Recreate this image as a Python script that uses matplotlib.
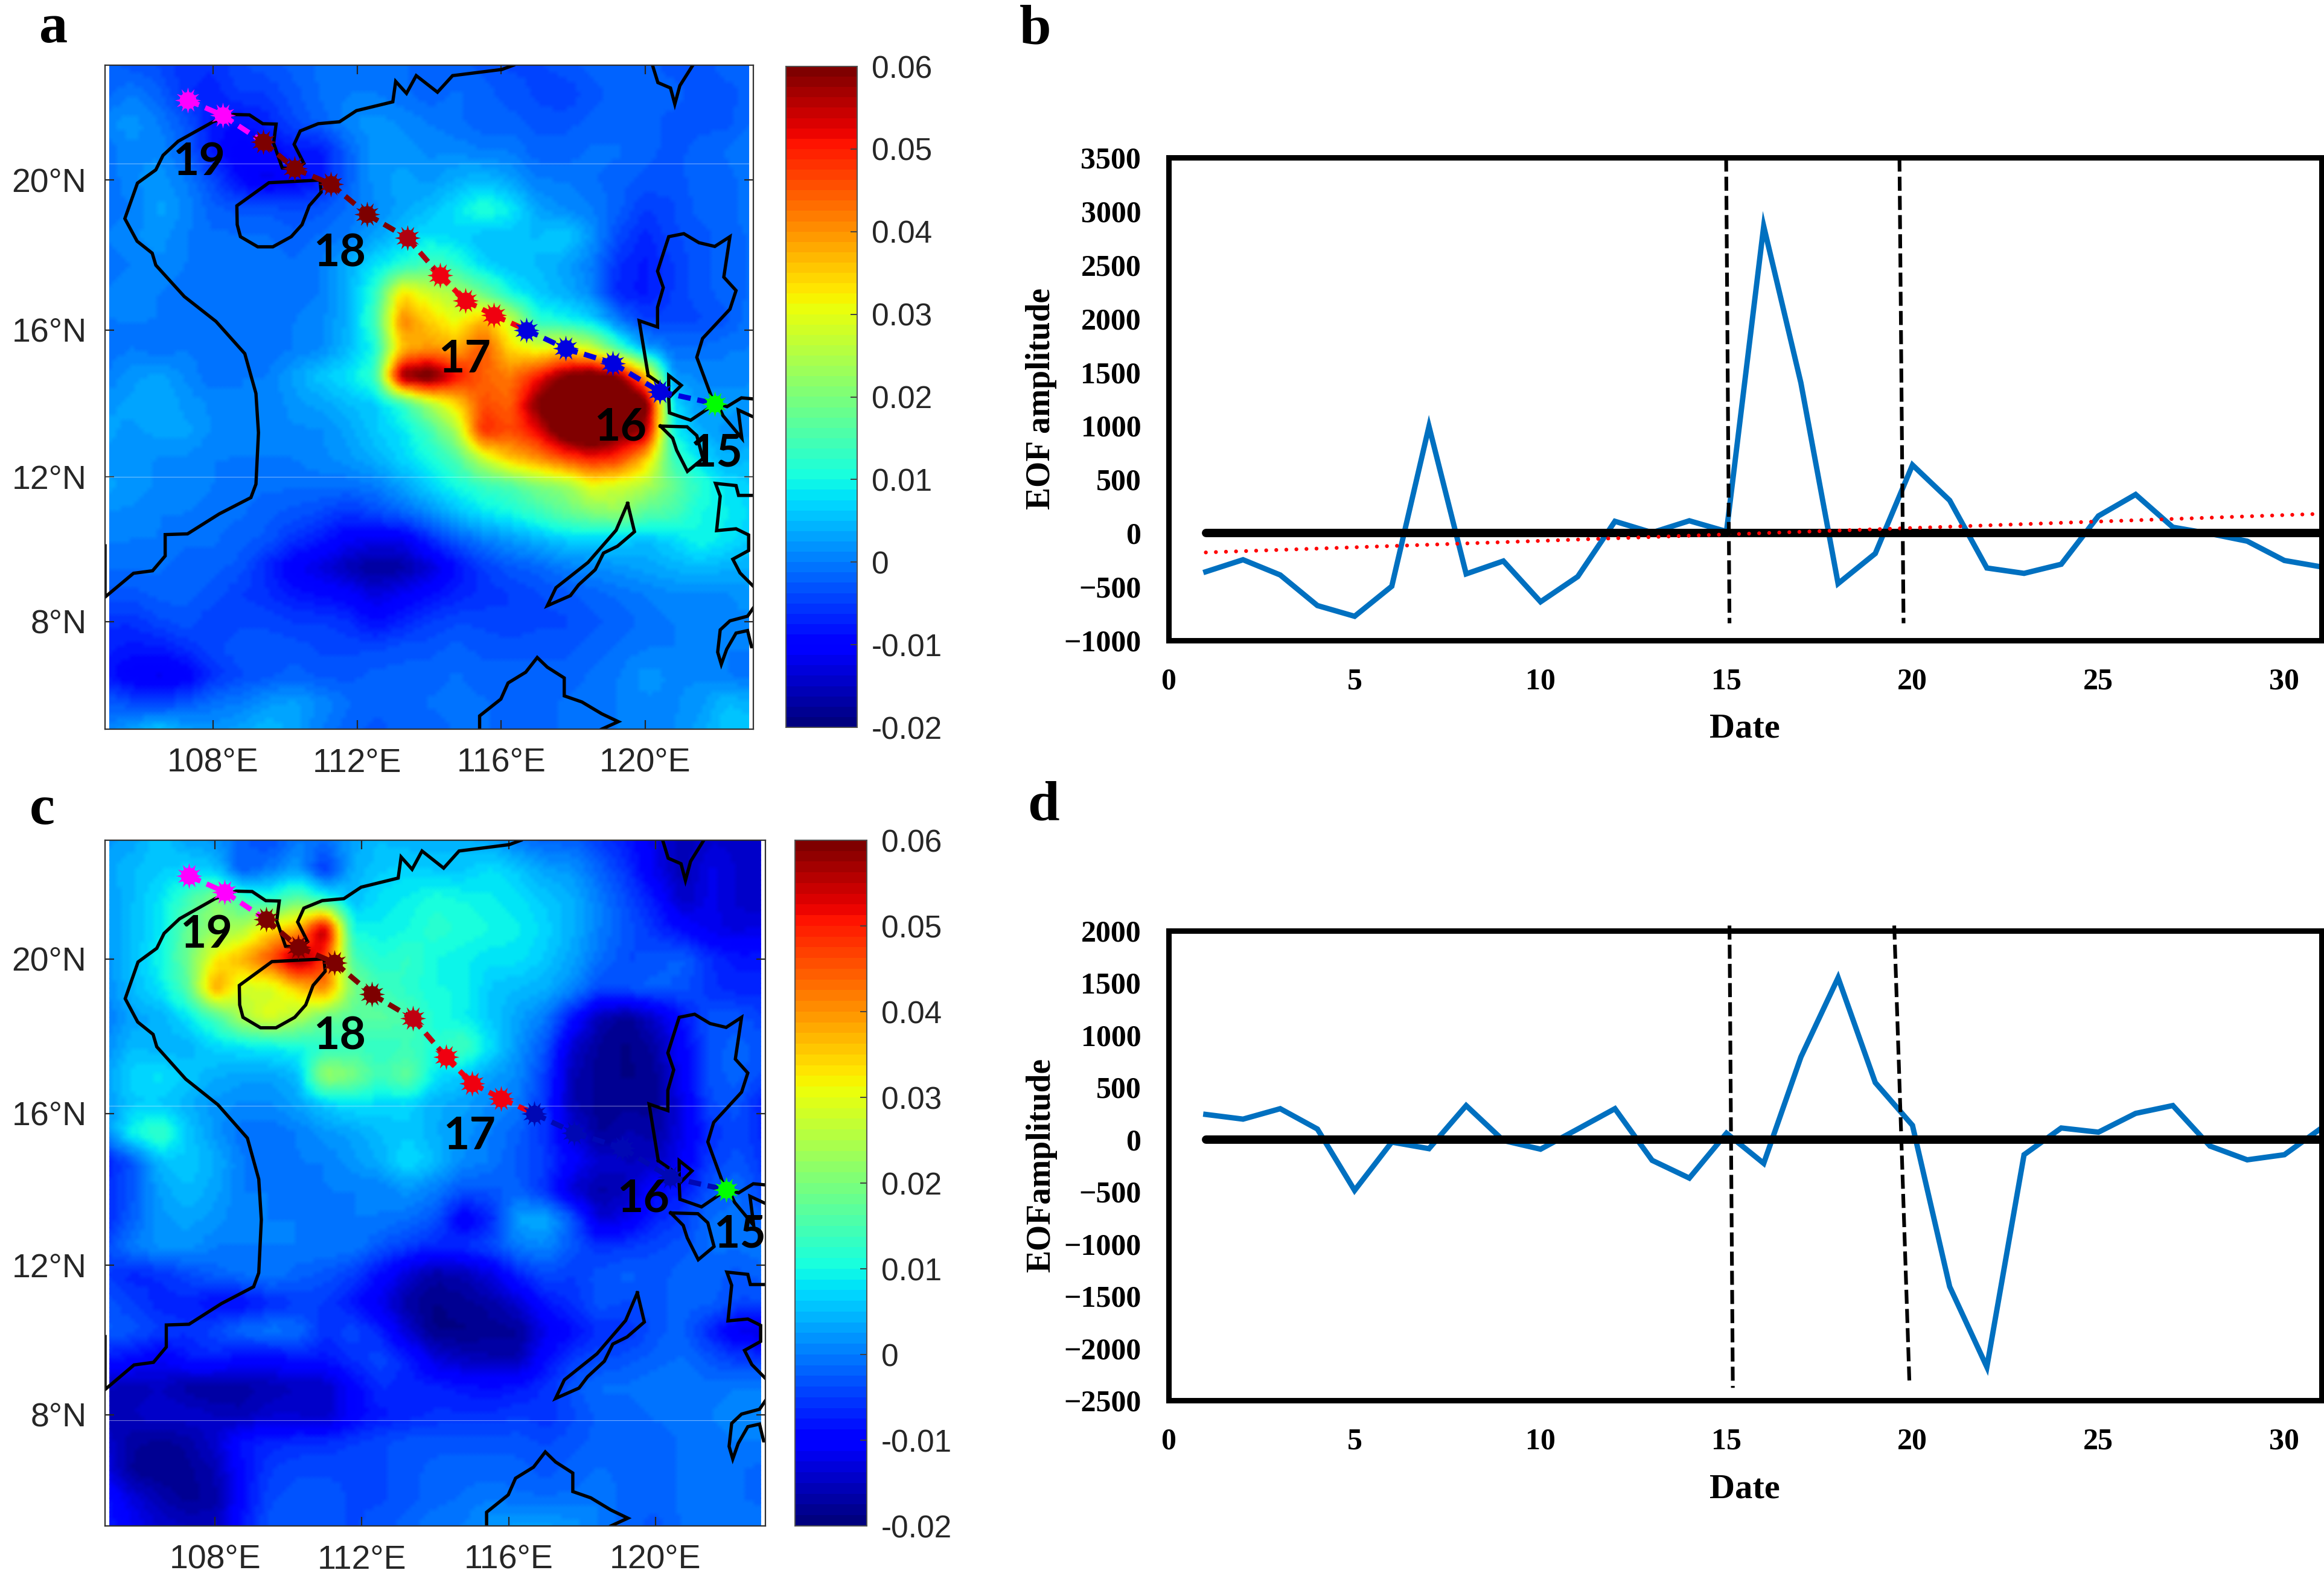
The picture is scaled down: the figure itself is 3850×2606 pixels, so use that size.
import numpy as np
import matplotlib
matplotlib.use('Agg')
import matplotlib.pyplot as plt

W, H = 3850, 2606

# EOF time series
days = list(range(1, 32))
amp_b = [-360, -248, -390, -675, -775, -495, 995, -380, -260, -640, -405, 110, 5, 115, 15, 2860,
         1400, -470, -190, 635, 305, -325, -375, -290, 160, 360, 55, -5, -75, -255, -315]
amp_d = [240, 195, 295, 100, -488, -25, -88, 325, -10, -93, 100, 295, -200, -370, 60, -229,
         790, 1550, 545, 135, -1410, -2180, -146, 110, 70, 250, 325, -63, -195, -146, 110]
trend_x = [1, 31]
trend_b = [-180, 180]
dash_b = [([14.99, 15.08], [3500, -840]), ([19.65, 19.76], [3500, -840])]
dash_d = [([15.08, 15.17], [2050, -2380]), ([19.51, 19.92], [2050, -2357])]

# typhoon track
track_lon = [107.29, 108.26, 109.39, 110.27, 111.26, 112.28, 113.39, 114.3, 115.0, 115.79,
             116.7, 117.79, 119.1, 120.4, 121.93]
track_lat = [22.1, 21.7, 21.0, 20.3, 19.9, 19.09, 18.47, 17.47, 16.79, 16.4,
             16.0, 15.5, 15.1, 14.33, 14.0]
track_col = ['#ff00ff', '#ff00ff', '#7d0000', '#7d0000', '#7d0000', '#7d0000', '#b00010', '#f00010',
             '#f00010', '#f00010', '#0000e0', '#0000e0', '#0000e0', '#0000e0', '#00ff00']
track_col_c = ['#ff00ff', '#ff00ff', '#7d0000', '#7d0000', '#7d0000', '#7d0000', '#c00010', '#f00010',
               '#f00010', '#f00010', '#0008b4', '#0008b4', '#0008b4', '#0008b4', '#00ff00']

# coastlines
coast_main = [(105.0, 10.1), (105.0, 8.68), (105.79, 9.34), (106.32, 9.41), (106.67, 9.82), (106.67, 10.41),
              (107.29, 10.43), (108.17, 10.98), (109.05, 11.43), (109.19, 11.80), (109.26, 13.21),
              (109.19, 14.28), (108.88, 15.36), (108.08, 16.23), (107.2, 16.9), (106.41, 17.74),
              (106.31, 18.06), (105.89, 18.38), (105.55, 18.98), (105.9, 19.92), (106.41, 20.27),
              (106.61, 20.65), (107.03, 21.02), (108.0, 21.53), (108.57, 21.72), (109.01, 21.71),
              (109.38, 21.48), (109.75, 21.47), (109.68, 20.97), (109.92, 20.32), (110.3, 20.29),
              (110.52, 20.44), (110.25, 20.94), (110.42, 21.29), (110.92, 21.48), (111.51, 21.53),
              (111.98, 21.82), (112.99, 22.05), (113.07, 22.58), (113.37, 22.27), (113.64, 22.73),
              (114.23, 22.3), (114.65, 22.73), (116.02, 22.89), (116.34, 23.0)]
coast_hainan = [(110.97, 20.0), (109.55, 19.93), (108.66, 19.32), (108.67, 18.82), (108.76, 18.5), (109.24, 18.23),
                (109.66, 18.23), (110.17, 18.5), (110.47, 18.82), (110.67, 19.32), (111.0, 19.68), (110.97, 20.0)]
coast_taiwan = [(120.2, 23.0), (120.35, 22.55), (120.7, 22.41), (120.82, 21.99), (120.96, 22.47), (121.32, 23.0)]
coast_luzon = [(120.08, 14.77), (119.83, 16.25), (120.34, 16.08), (120.34, 16.61), (120.5, 17.14), (120.34, 17.58),
               (120.65, 18.5), (121.07, 18.58), (121.49, 18.34), (121.93, 18.24), (122.35, 18.5), (122.18, 17.42),
               (122.52, 17.06), (122.35, 16.56), (121.59, 15.77), (121.43, 15.26), (121.83, 14.21), (122.0, 14.0),
               (122.27, 13.92), (122.67, 14.16), (123.0, 14.13)]
coast_luzon2 = [(120.08, 14.77), (120.42, 14.54), (120.65, 14.3), (120.65, 14.77), (121.0, 14.5), (120.65, 14.16),
                (120.67, 13.75), (121.26, 13.55), (121.76, 13.88), (122.0, 14.0), (122.16, 13.67), (122.68, 13.06),
                (122.58, 13.83), (123.0, 13.64)]
coast_mindoro = [(120.42, 13.39), (121.16, 13.37), (121.43, 13.13), (121.6, 12.5), (121.17, 12.15), (120.87, 12.73),
                 (120.76, 13.06), (120.42, 13.39)]
coast_palawan = [(119.51, 11.27), (119.7, 10.49), (119.23, 10.09), (118.84, 9.9), (118.61, 9.44), (118.15, 9.02),
                 (117.92, 8.72), (117.28, 8.44), (117.52, 8.94), (118.41, 9.64), (119.19, 10.53), (119.51, 11.27)]
coast_borneo = [(115.4, 5.0), (115.4, 5.37), (115.99, 5.84), (116.19, 6.29), (116.68, 6.59), (117.0, 7.0), (117.28, 6.73),
                (117.75, 6.43), (117.75, 5.93), (118.24, 5.76), (118.79, 5.43), (119.25, 5.21), (118.79, 5.0)]
coast_visayas = [(123.0, 11.49), (122.59, 11.49), (122.52, 11.76), (121.95, 11.82), (122.08, 11.47), (121.98, 10.52),
                 (122.52, 10.57), (122.87, 10.4), (122.87, 9.97), (122.43, 9.73), (122.63, 9.35), (123.0, 8.98)]
coast_mindanao = [(123.0, 8.38), (122.84, 8.15), (122.35, 8.02), (122.08, 7.77), (122.01, 7.15), (122.11, 6.81),
                  (122.26, 7.23), (122.52, 7.68), (122.84, 7.75), (122.95, 7.3), (123.0, 7.3)]
coasts = [coast_main, coast_hainan, coast_taiwan, coast_luzon, coast_luzon2, coast_mindoro, coast_palawan,
          coast_borneo, coast_visayas, coast_mindanao]

# EOF fields in units of 0.001, rows north to south
grid_lon = np.arange(25) * 0.75 + 105
grid_lat = 23 - np.arange(25) * 0.75
field_a = np.array([
    [-2, -3, -4, -6, -6, -4, -3, -2, -1, -1, 0, -1, -2, -2, -3, -4, -4, -3, -2, -2, -2, -3, -3, -2, -2],
    [-2, 0, -2, -6, -7, -5, -5, -3, -1, 0, 0, -1, -2, -1, -2, -3, -4, -5, -3, -2, -2, -2, -3, -3, -2],
    [1, 2, 0, -3, -8, -9, -7, -4, -2, 1, 2, 1, 0, -1, -2, -2, -3, -3, -2, -2, -2, -3, -3, -3, -1],
    [-1, 1, 1, -2, -8, -11, -10, -8, -8, -2, 2, 2, 1, 1, 0, 0, -2, -2, -1, -1, -2, -3, -2, -1, 0],
    [-1, 1, 2, 0, -4, -9, -12, -10, -8, -2, 2, 3, 2, 4, 5, 3, 0, 0, -1, -2, -3, -3, -2, -2, 0],
    [-1, 0, 3, 1, -2, -3, -3, -4, -3, -1, 1, 3, 5, 8, 12, 9, 3, 1, 0, -2, -5, -4, -2, -2, 0],
    [0, 1, 2, 0, -1, -1, -1, -2, -1, 0, 3, 6, 8, 7, 5, 5, 5, 7, 2, -4, -7, -4, -3, -2, -1],
    [-1, 0, 1, 0, -1, -1, -1, -1, 0, 4, 8, 11, 15, 12, 7, 5, 5, 3, 0, -6, -8, -5, -3, -2, -1],
    [0, 1, 0, -1, -1, -1, -1, -1, 0, 4, 12, 34, 28, 24, 18, 10, 6, 4, 1, -7, -8, -5, -3, -2, -1],
    [0, 0, 0, -1, -1, -1, -1, 0, 1, 4, 14, 42, 35, 30, 38, 28, 12, 10, 7, 0, -5, -4, -4, -3, 0],
    [-1, 0, -1, 0, -1, -1, -1, 0, 1, 5, 10, 36, 40, 38, 46, 34, 30, 33, 28, 14, 3, -1, -1, 0, 0],
    [0, 2, 3, 1, -1, 0, 0, 3, 6, 8, 13, 60, 64, 52, 44, 42, 50, 60, 64, 60, 38, 2, 1, 0, 1],
    [2, 3, 4, 2, 1, 0, 0, 2, 3, 5, 6, 12, 24, 34, 46, 44, 60, 70, 72, 72, 64, 8, 2, 3, 2],
    [3, 2, 3, 3, 1, 0, 0, 1, 1, 3, 6, 8, 14, 24, 50, 46, 52, 64, 70, 62, 58, 10, 4, 2, 2],
    [2, 2, 1, 1, 0, 0, 0, 0, 1, 2, 4, 7, 10, 15, 27, 36, 40, 46, 50, 48, 36, 14, 8, 4, 5],
    [3, 2, 1, 1, 0, -1, -1, -1, -1, -1, 0, 3, 7, 10, 13, 15, 20, 22, 30, 28, 25, 18, 12, 8, 6],
    [1, 1, 0, 0, -1, -1, -2, -3, -4, -6, -4, -2, 1, 5, 8, 10, 13, 17, 20, 22, 16, 15, 10, 9, 7],
    [0, 0, 0, -1, -1, -2, -3, -6, -8, -11, -12, -12, -7, -3, 0, 2, 4, 6, 6, 6, 5, 7, 10, 8, 6],
    [-1, -1, -1, -2, -2, -3, -7, -11, -13, -16, -18, -17, -14, -9, -5, -3, -2, 0, 1, 2, 3, 4, 5, 4, 4],
    [-3, -3, -2, -2, -3, -5, -6, -8, -9, -10, -13, -11, -9, -7, -6, -5, -4, -3, -2, -1, 0, 1, 1, 1, 2],
    [-6, -6, -4, -3, -5, -4, -4, -5, -5, -6, -9, -7, -5, -4, -4, -5, -4, -4, -3, -2, -1, 0, 0, 1, 1],
    [-7, -8, -8, -6, -4, -3, -3, -3, -4, -4, -4, -3, -3, -2, -3, -3, -3, -3, -2, -1, 0, 0, 0, 0, 0],
    [-8, -11, -12, -11, -6, -4, -3, -2, -3, -3, -2, -2, -2, -1, -2, -2, -2, -2, -1, 0, 2, 1, 1, 0, -1],
    [-2, -4, -5, -3, -1, 0, 2, 3, 1, -1, -2, -2, -1, -1, -1, -2, -2, -1, -1, 0, 1, 1, 2, 5, 4],
    [0, 3, 6, 3, 2, 3, 5, 3, 0, -2, -3, -2, -2, -1, -1, -2, -2, -1, 0, 0, 1, 1, 3, 6, 6],
])
field_c = np.array([
    [2, 3, 6, 3, 2, -2, -4, 0, -1, 3, 5, 4, 4, 4, 3, 0, -2, -2, -5, -8, -12, -16, -14, -14, -14],
    [3, 5, 6, 7, 6, -3, 0, 3, -6, 4, 6, 7, 6, 6, 8, 6, 3, 2, -2, -6, -12, -16, -12, -14, -14],
    [2, 5, 8, 14, 22, 14, 12, 18, 12, 5, 8, 9, 11, 10, 9, 8, 6, 4, 0, -4, -8, -15, -12, -14, -15],
    [2, 5, 8, 18, 22, 25, 34, 38, 58, 10, 9, 10, 12, 11, 10, 9, 7, 4, 0, -3, -6, -9, -12, -13, -12],
    [2, 5, 10, 18, 32, 38, 46, 60, 48, 15, 11, 13, 10, 9, 8, 8, 6, 3, -1, -4, -3, -2, -6, -8, -8],
    [1, 5, 8, 16, 40, 28, 28, 35, 42, 20, 14, 12, 10, 10, 6, 5, 4, 1, -4, -3, -2, -3, -6, -7, -7],
    [0, 3, 4, 8, 14, 25, 30, 25, 18, 16, 17, 15, 11, 9, 6, 3, 0, -8, -16, -18, -14, -8, -3, -3, -5],
    [1, 5, 4, 4, 7, 8, 9, 10, 12, 14, 12, 14, 11, 15, 8, 2, -3, -14, -18, -19, -17, -10, -3, -2, -3],
    [3, 7, 8, 6, 4, 3, 3, 5, 24, 20, 14, 18, 8, 6, 3, 1, -5, -16, -18, -19, -18, -10, -3, -2, -4],
    [2, 6, 6, 4, 2, 1, 1, 3, 6, 8, 7, 7, 4, 3, 1, 0, -6, -16, -18, -18, -18, -12, -4, -3, -8],
    [1, 10, 14, 6, 2, -1, -1, 0, 2, 3, 5, 6, 4, 2, 0, -2, -6, -13, -18, -16, -17, -12, -6, -4, -7],
    [-8, -3, 5, 6, 4, 0, -1, 0, 0, 2, 4, 8, 5, 1, 0, -3, -5, -10, -14, -15, -15, -11, -5, -3, -6],
    [-6, -3, 3, 5, 3, 0, 0, -1, 0, 0, 0, 2, 0, -3, -3, -2, -6, -14, -17, -15, -9, -8, -3, -1, -5],
    [-7, -2, 2, 3, 2, 0, 0, 0, -1, 0, 0, -1, -3, -11, -7, 3, 4, -3, -14, -12, -7, -5, -1, -1, -2],
    [-4, 0, 2, 2, 0, 0, 0, 0, 0, 0, -3, -5, -7, -6, -4, 0, 1, -3, -6, -5, -4, -3, -1, -1, 0],
    [-5, -7, -6, -4, -2, -1, 0, -2, -3, -5, -9, -14, -17, -16, -13, -7, -4, -5, -3, -2, -3, -2, -2, -3, -2],
    [-3, -5, -7, -7, -9, -9, -7, -5, -5, -8, -12, -17, -19, -18, -17, -14, -8, -6, -3, -4, -3, -2, -2, -4, -4],
    [-2, -3, -5, -6, -4, -1, 0, -1, -6, -4, -7, -14, -19, -19, -18, -18, -12, -9, -6, -6, -3, -2, -7, -12, -13],
    [-8, -9, -11, -8, -7, -10, -10, -8, -8, -6, -4, -7, -13, -15, -16, -16, -9, -5, -4, -3, -2, -1, -3, -5, -5],
    [-15, -16, -15, -17, -18, -17, -16, -15, -15, -10, -6, -7, -7, -8, -9, -8, -6, -3, -1, -1, 0, 0, -1, 0, 0],
    [-16, -15, -14, -14, -15, -16, -14, -14, -15, -10, -8, -7, -6, -6, -6, -5, -6, -4, -2, -2, -1, -1, 0, 1, 1],
    [-14, -17, -18, -17, -14, -8, -7, -6, -6, -5, -4, -3, -3, -3, -3, -3, -4, -3, -2, -2, -2, -1, -1, 0, 0],
    [-12, -18, -19, -18, -16, -9, -5, -4, -4, -4, -4, -3, -2, -2, -2, -2, -3, -2, -1, -2, -2, -1, -1, -1, -2],
    [-8, -13, -16, -18, -17, -9, -4, -3, -3, -4, -4, -3, -2, -1, 0, -1, -1, -1, 0, -2, -2, -1, 0, -1, -2],
    [-7, -11, -14, -15, -15, -8, -3, -3, -3, -4, -3, -2, 0, 0, 2, 3, 3, 2, 0, -2, -3, -1, 0, 0, 0],
])

x_ticks_map = [108, 112, 116, 120]
y_ticks_map = [8, 12, 16, 20]
cbar_ticks = [-0.02, -0.01, 0, 0.01, 0.02, 0.03, 0.04, 0.05, 0.06]
cbar_labels = ['-0.02', '-0.01', '0', '0.01', '0.02', '0.03', '0.04', '0.05', '0.06']

plt.rcParams['font.family'] = ['Liberation Sans', 'DejaVu Sans']
jet = plt.get_cmap('jet', 64)
fig = plt.figure(figsize=(W / 100, H / 100), dpi=100)


def box(x0, y0, x1, y1):
    # pixel box, y from the top of the image
    return [x0 / W, 1 - y1 / H, (x1 - x0) / W, (y1 - y0) / H]


def put_text(x, y, s, va='center', **kw):
    fig.text(x / W, 1 - y / H, s, ha='center', va=va, **kw)


def merc(lat):
    return np.log(np.tan(np.pi / 4 + np.radians(lat) / 2))


def merc_inv(y):
    return np.degrees(2 * np.arctan(np.exp(y)) - np.pi / 2)


def smooth_field(field):
    fine_lon = np.linspace(105, 123, 145)
    fine_lat = np.linspace(5, 23, 145)
    rows = np.array([np.interp(fine_lon, grid_lon, r) for r in field[::-1]])
    full = np.array([np.interp(fine_lat, grid_lat[::-1], c) for c in rows.T]).T
    kernel = np.ones(3) / 3
    for axis in (0, 1):
        pad = np.concatenate([np.take(full, [0], axis=axis), full, np.take(full, [-1], axis=axis)], axis=axis)
        full = np.apply_along_axis(lambda v: np.convolve(v, kernel, mode='valid'), axis, pad)
    return fine_lon, fine_lat, full * 0.001


def draw_map(field, map_box, cbar_box, seams, colors):
    ax = fig.add_axes(box(*map_box))
    ax.set_yscale('function', functions=(merc, merc_inv))
    lon, lat, z = smooth_field(field)
    keep = (lon > 105.1) & (lon < 122.9)
    ax.pcolormesh(lon[keep], lat, z[:, keep], cmap=jet, vmin=-0.02, vmax=0.06, shading='gouraud', rasterized=True)
    for s in seams:
        ax.axhline(s, color='white', lw=0.8, alpha=0.45)
    for c in coasts:
        ax.plot([p[0] for p in c], [p[1] for p in c], color='black', lw=3.9, solid_joinstyle='miter')
    for i in range(len(track_lon) - 1):
        ax.plot(track_lon[i:i + 2], track_lat[i:i + 2], color=colors[i], lw=6.2, linestyle=(0, (2.4, 1.3)))
    for i in range(len(track_lon)):
        ax.plot(track_lon[i], track_lat[i], marker='o', ms=20, color=colors[i], mew=0)
        ax.plot(track_lon[i], track_lat[i], marker=(12, 1, 0), ms=31, color=colors[i], mew=0)
    ax.set_xlim(105, 123)
    ax.set_ylim(5, 23)
    ax.set_xticks(x_ticks_map)
    ax.set_xticklabels([str(v) + '°E' for v in x_ticks_map])
    ax.set_yticks(y_ticks_map)
    ax.set_yticklabels([str(v) + '°N' for v in y_ticks_map])
    ax.minorticks_off()
    ax.tick_params(direction='in', length=11, width=1.6, top=True, right=True, labelsize=40,
                   color='#262626', labelcolor='#262626', pad=22)
    for s in ax.spines.values():
        s.set_linewidth(1.6)
        s.set_color('#303030')

    cax = fig.add_axes(box(*cbar_box))
    cax.imshow(np.linspace(0.06, -0.02, 64)[:, None], cmap=jet, vmin=-0.02, vmax=0.06, aspect='auto',
               extent=[0, 1, -0.02, 0.06])
    cax.set_xticks([])
    cax.yaxis.tick_right()
    cax.set_yticks(cbar_ticks)
    cax.set_yticklabels(cbar_labels)
    cax.tick_params(direction='in', length=8, width=1.4, labelsize=37, color='#404040', labelcolor='#262626', pad=17)
    for s in cax.spines.values():
        s.set_linewidth(1.4)
        s.set_color('#505050')


def draw_series(amp, frame, ymin, ymax, ystep, dashes, ylabel, date_y, label_y, trend=None):
    ax = fig.add_axes(box(*frame))
    ax.plot(days, amp, color='#0070c0', lw=6.4, solid_joinstyle='miter', zorder=2)
    ax.plot([days[0], days[-1]], [0, 0], color='black', lw=10, solid_capstyle='round', zorder=3, clip_on=False)
    if trend is not None:
        ax.plot(trend_x, trend, color='#ff0000', lw=4.6, linestyle=(0, (0.01, 2.6)), dash_capstyle='round',
                zorder=4, clip_on=False)
    for xs, ys in dashes:
        ax.plot(xs, ys, color='black', lw=4.4, linestyle=(0, (3.8, 1.4)), zorder=5, clip_on=False)
    ax.set_xlim(0, 31)
    ax.set_ylim(ymin, ymax)
    ax.set_xticks(range(0, 31, 5))
    ax.set_yticks(range(ymin, ymax + 1, ystep))
    ax.tick_params(length=0, labelsize=36, pad=33)
    for lab in ax.get_xticklabels() + ax.get_yticklabels():
        lab.set_fontfamily('Liberation Serif')
        lab.set_fontweight('bold')
    for s in ax.spines.values():
        s.set_linewidth(6.5)
        s.set_capstyle('projecting')
    put_text(2890, date_y, 'Date', family='Liberation Serif', weight='bold', fontsize=42)
    put_text(1725, label_y, ylabel, family='Liberation Serif', weight='bold', fontsize=40, rotation=90)


draw_map(field_a, (174, 108, 1248, 1208), (1302, 110, 1420, 1205), [20.44, 12.0], track_col)
draw_map(field_c, (174, 1392, 1268, 2528), (1317, 1392, 1436, 2528), [16.2, 7.85], track_col_c)
draw_series(amp_b, (1936, 261, 3846, 1061), -1000, 3500, 500, dash_b, 'EOF amplitude', 1208, 661, trend_b)
draw_series(amp_d, (1936, 1542, 3846, 2320), -2500, 2000, 500, dash_d, 'EOFamplitude', 2468, 1930)

for x, y, s in [(330, 269, '19'), (563, 420, '18'), (770, 596, '17'), (1028, 708, '16'), (1187, 751, '15'),
                (342, 1549, '19'), (563, 1717, '18'), (778, 1882, '17'), (1066, 1986, '16'), (1226, 2045, '15')]:
    put_text(x, y, s, family='Lato', weight='bold', fontsize=54, color='black')

for x, y, s in [(89, 70, 'a'), (1715, 72, 'b'), (70, 1365, 'c'), (1728, 1358, 'd')]:
    put_text(x, y, s, va='baseline', family='Liberation Serif', weight='bold', fontsize=68)

fig.savefig('out.png', dpi=100)
